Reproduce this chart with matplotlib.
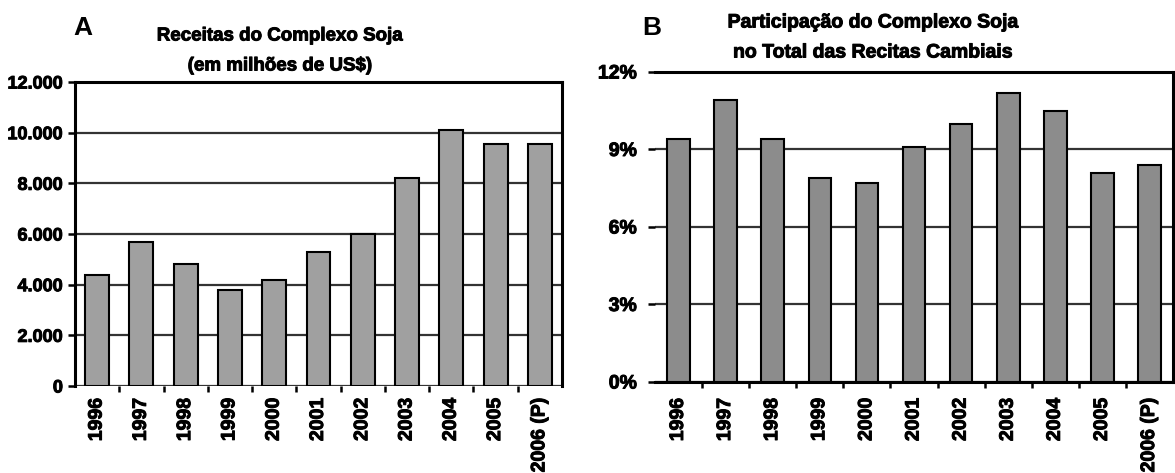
import matplotlib
matplotlib.use('Agg')
import matplotlib.pyplot as plt
import matplotlib.patheffects as pe
from matplotlib.ticker import FuncFormatter, FixedLocator

anos = ['1996', '1997', '1998', '1999', '2000', '2001', '2002', '2003', '2004', '2005', '2006 (P)']
receitas = [4400, 5700, 4800, 3800, 4200, 5300, 6000, 8200, 10100, 9550, 9550]
participacao = [9.4, 10.9, 9.4, 7.9, 7.7, 9.1, 10.0, 11.2, 10.5, 8.1, 8.4]

plt.rcParams['font.family'] = ['Liberation Sans', 'DejaVu Sans']
plt.rcParams['font.weight'] = 'bold'

grosso = [pe.withStroke(linewidth=0.7, foreground='black')]

fig = plt.figure(figsize=(11.75, 4.73), dpi=100)


def estilo(ax, dados, ymax, passo, fmt, cor, largura, pad_y, pad_x, ysize):
    x = list(range(len(anos)))
    ax.bar(x, dados, width=largura, color=cor, edgecolor='black', linewidth=1.5, zorder=3)
    ax.set_xlim(-0.5, len(anos) - 0.5)
    ax.set_ylim(0, ymax)
    ax.set_yticks([passo * i for i in range(int(ymax / passo) + 1)])
    ax.yaxis.set_major_formatter(FuncFormatter(fmt))
    ax.grid(axis='y', color='#333333', linewidth=1.6, zorder=1)
    ax.set_xticks(x)
    ax.set_xticklabels(anos, rotation=90, fontsize=14, fontweight='bold')
    ax.xaxis.set_minor_locator(FixedLocator([i + 0.5 for i in range(len(anos) - 1)]))
    ax.tick_params(axis='x', which='major', length=0, pad=pad_x)
    ax.tick_params(axis='x', which='minor', length=4.5, width=1.8, direction='out')
    ax.tick_params(axis='y', length=5, width=1.8, pad=pad_y, labelsize=ysize)
    for s in ax.spines.values():
        s.set_linewidth(2.2)
    for lbl in ax.get_yticklabels() + ax.get_xticklabels():
        lbl.set_fontweight('bold')
        lbl.set_path_effects(grosso)


axA = fig.add_axes([0.0638, 0.1839, 0.4145, 0.6427])
estilo(axA, receitas, 12000, 2000, lambda v, p: '{:,.0f}'.format(v).replace(',', '.'),
       '#a0a0a0', 0.54, 3.6, 8.6, 13)
axA.spines['bottom'].set_visible(False)

axB = fig.add_axes([0.5574, 0.1924, 0.4410, 0.6554])
estilo(axB, participacao, 12, 3, lambda v, p: '{:.0f}%'.format(v), '#8c8c8c', 0.48, 8, 11.5, 14)
axB.spines['left'].set_visible(False)

titulos = [
    (0.238, 36, 'Receitas do Complexo Soja', 13.5),
    (0.238, 66, '(em milhões de US$)', 13.5),
    (0.743, 23, 'Participação do Complexo Soja', 14),
    (0.743, 53, 'no Total das Recitas Cambiais', 14),
]
for xt, yt, txt, fs in titulos:
    fig.text(xt, 1 - yt / 473, txt, ha='center', va='center', fontsize=fs,
             fontweight='bold', path_effects=grosso)

fig.text(73 / 1175, 1 - 28 / 473, 'A', ha='left', va='center', fontsize=19, fontweight='bold')
fig.text(642 / 1175, 1 - 28 / 473, 'B', ha='left', va='center', fontsize=19, fontweight='bold')

plt.savefig('out.png', dpi=100)
